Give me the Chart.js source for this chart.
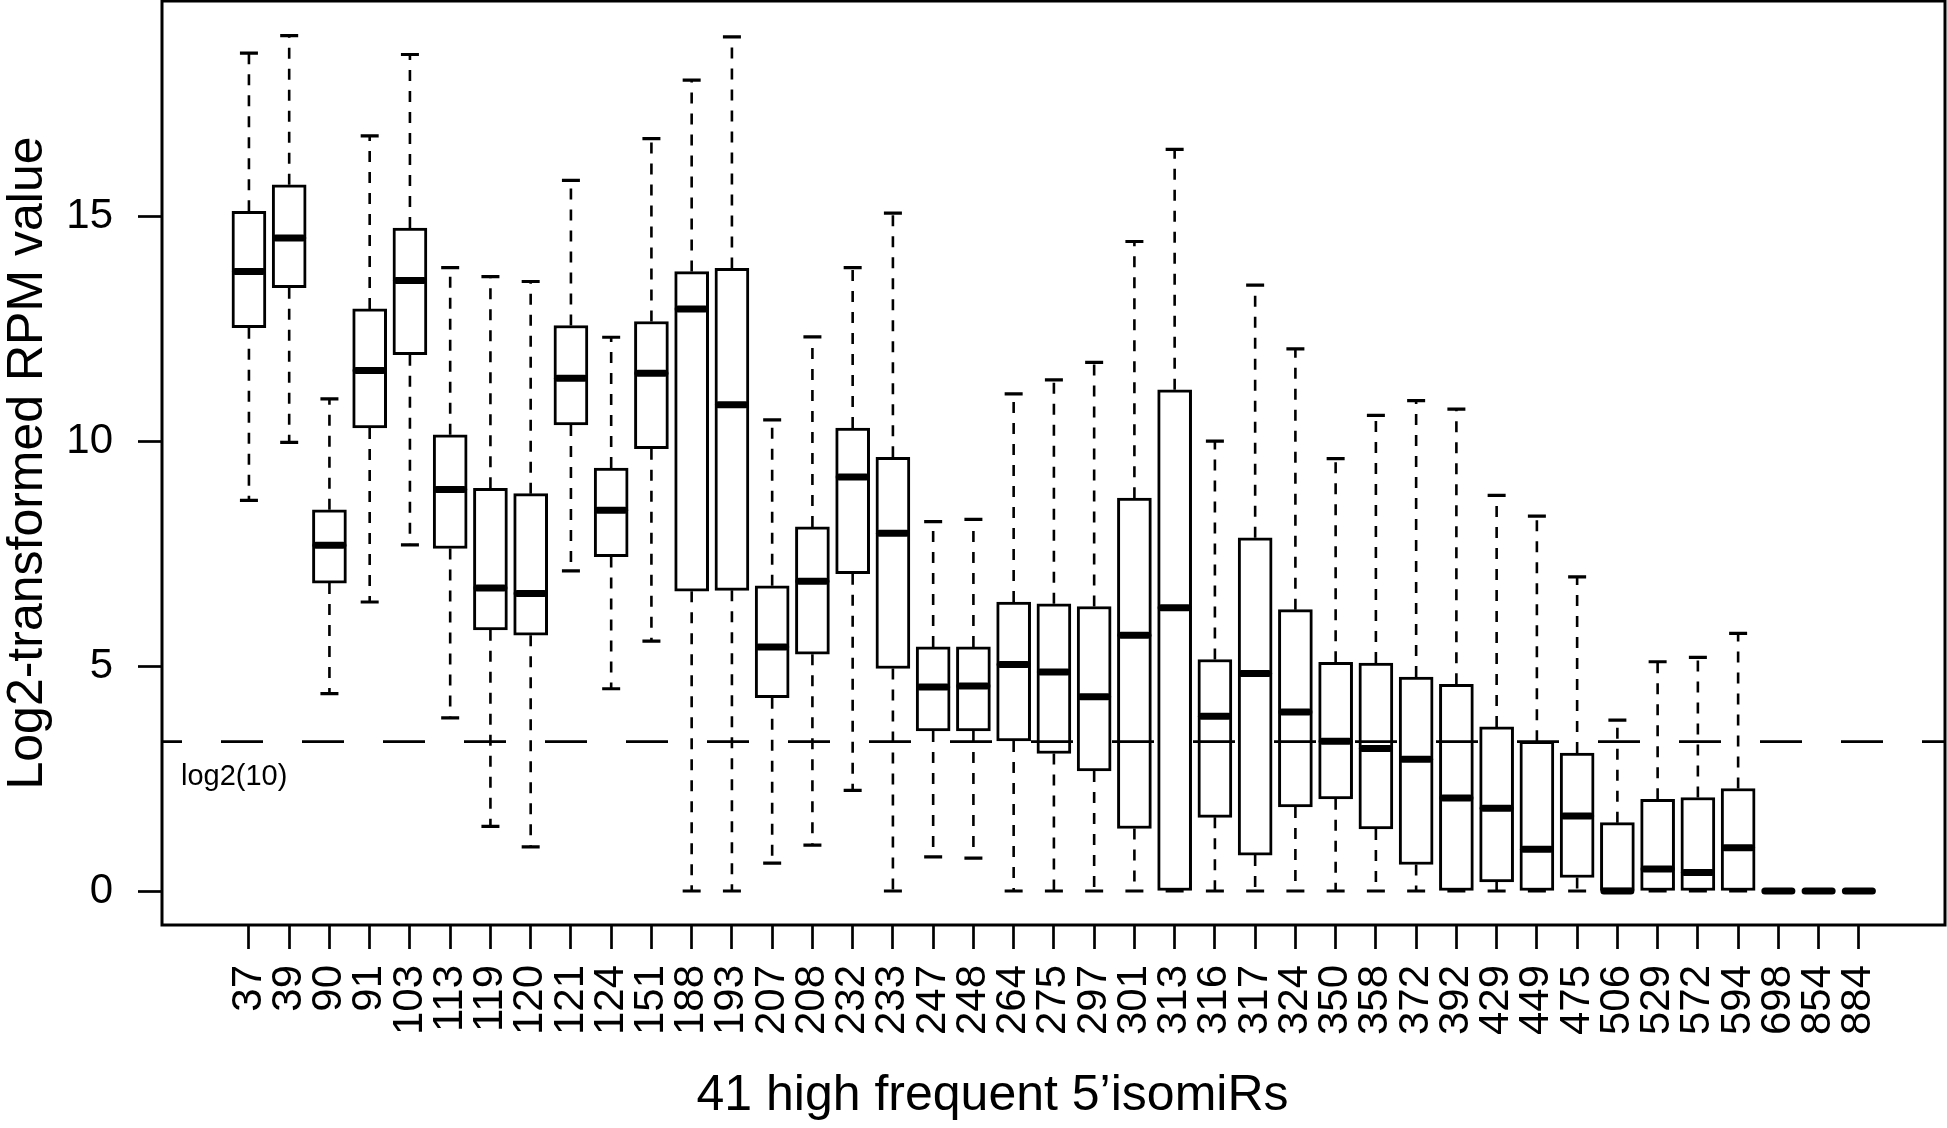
<!DOCTYPE html>
<html>
<head>
<meta charset="utf-8">
<script src="https://cdn.jsdelivr.net/npm/chart.js@4.4.1/dist/chart.umd.min.js"></script>
<style>
  html, body { margin: 0; padding: 0; background: #fff; }
  canvas { display: block; }
</style>
</head>
<body>
<canvas id="chart" width="1947" height="1128"></canvas>
<script>
const isomiRs = ["37", "39", "90", "91", "103", "113", "119", "120", "121", "124", "151", "188", "193", "207", "208", "232", "233", "247", "248", "264", "275", "297", "301", "313", "316", "317", "324", "350", "358", "372", "392", "429", "449", "475", "506", "529", "572", "594", "698", "854", "884"];
const whiskerLow = [8.69, 9.98, 4.39, 6.43, 7.70, 3.85, 1.44, 0.98, 7.12, 4.50, 5.56, 0, 0, 0.62, 1.02, 2.24, 0, 0.76, 0.73, 0, 0, 0, 0, 0, 0, 0, 0, 0, 0, 0, 0, 0, 0, 0, 0, 0, 0, 0, 0, 0, 0];
const lowerQuartile = [12.53, 13.42, 6.85, 10.30, 11.93, 7.62, 5.81, 5.69, 10.37, 7.44, 9.84, 6.67, 6.69, 4.30, 5.27, 7.06, 4.95, 3.56, 3.56, 3.34, 3.06, 2.67, 1.39, 0, 1.64, 0.80, 1.87, 2.05, 1.38, 0.59, 0, 0.20, 0, 0.30, 0, 0, 0, 0, 0, 0, 0];
const medians = [13.78, 14.53, 7.69, 11.58, 13.58, 8.93, 6.74, 6.62, 11.41, 8.47, 11.52, 12.95, 10.82, 5.43, 6.89, 9.21, 7.96, 4.54, 4.56, 5.04, 4.87, 4.32, 5.69, 6.30, 3.89, 4.84, 3.98, 3.33, 3.17, 2.93, 2.07, 1.84, 0.93, 1.67, 0, 0.49, 0.41, 0.96, 0, 0, 0];
const upperQuartile = [15.12, 15.71, 8.48, 12.95, 14.75, 10.15, 8.96, 8.84, 12.58, 9.41, 12.67, 13.78, 13.85, 6.79, 8.10, 10.30, 9.65, 5.43, 5.43, 6.43, 6.39, 6.33, 8.74, 11.15, 5.15, 7.86, 6.26, 5.09, 5.07, 4.76, 4.60, 3.65, 3.33, 3.07, 1.52, 2.04, 2.08, 2.28, 0, 0, 0];
const whiskerHigh = [18.64, 19.03, 10.95, 16.80, 18.61, 13.87, 13.67, 13.56, 15.81, 12.32, 16.74, 18.04, 19.00, 10.48, 12.33, 13.87, 15.08, 8.22, 8.27, 11.06, 11.37, 11.76, 14.45, 16.50, 10.01, 13.48, 12.06, 9.62, 10.58, 10.91, 10.72, 8.80, 8.34, 6.99, 3.80, 5.10, 5.20, 5.73, 0, 0, 0];
const yTicks = [0, 5, 10, 15];
const cutoff = Math.log2(10);
const cutoffLabel = "log2(10)";

const FONT = "'Liberation Sans', Arial, Helvetica, sans-serif";

// whiskers, staples, medians, the log2(10) line and the frame
const boxParts = {
  id: "boxParts",
  afterDatasetsDraw(chart) {
    const { ctx, chartArea, scales: { x, y } } = chart;
    ctx.save();
    ctx.strokeStyle = "#000";
    isomiRs.forEach((_, i) => {
      const px = x.getPixelForValue(i);

      ctx.lineWidth = 2.6;
      ctx.lineCap = "butt";
      ctx.setLineDash([11, 10]);
      ctx.beginPath();
      ctx.moveTo(px, y.getPixelForValue(upperQuartile[i]));
      ctx.lineTo(px, y.getPixelForValue(whiskerHigh[i]));
      ctx.moveTo(px, y.getPixelForValue(lowerQuartile[i]));
      ctx.lineTo(px, y.getPixelForValue(whiskerLow[i]));
      ctx.stroke();

      ctx.setLineDash([]);
      ctx.lineWidth = 3.2;
      ctx.beginPath();
      [whiskerHigh[i], whiskerLow[i]].forEach((v) => {
        const py = y.getPixelForValue(v);
        ctx.moveTo(px - 9, py);
        ctx.lineTo(px + 9, py);
      });
      ctx.stroke();

      ctx.lineWidth = 7;
      ctx.lineCap = "round";
      ctx.beginPath();
      const my = y.getPixelForValue(medians[i]);
      ctx.moveTo(px - 13.5, my);
      ctx.lineTo(px + 13.5, my);
      ctx.stroke();
    });

    const cy = y.getPixelForValue(cutoff);
    ctx.lineWidth = 2.7;
    ctx.lineCap = "butt";
    ctx.setLineDash([42, 39]);
    ctx.lineDashOffset = 22;
    ctx.beginPath();
    ctx.moveTo(chartArea.left, cy);
    ctx.lineTo(chartArea.right, cy);
    ctx.stroke();
    ctx.setLineDash([]);

    ctx.fillStyle = "#000";
    ctx.font = `29px ${FONT}`;
    ctx.textAlign = "left";
    ctx.textBaseline = "alphabetic";
    ctx.fillText(cutoffLabel, chartArea.left + 19, cy + 43);
    ctx.restore();
  },
  afterDraw(chart) {
    const { ctx, chartArea } = chart;
    ctx.save();
    ctx.strokeStyle = "#000";
    ctx.lineWidth = 3;
    ctx.strokeRect(chartArea.left, chartArea.top, chartArea.right - chartArea.left, chartArea.bottom - chartArea.top);
    ctx.restore();
  },
};

const tickGrid = {
  offset: false,
  drawOnChartArea: false,
  drawTicks: true,
  tickLength: 24,
  tickWidth: 2.7,
  tickColor: "#000",
};

new Chart(document.getElementById("chart"), {
  type: "bar",
  data: {
    datasets: [{
      data: isomiRs.map((_, i) => ({ x: i, y: [lowerQuartile[i], upperQuartile[i]] })),
      backgroundColor: "#fff",
      borderColor: "#000",
      borderWidth: 3,
      borderSkipped: false,
      barThickness: 34,
    }],
  },
  options: {
    responsive: false,
    animation: false,
    events: [],
    layout: { padding: { left: 40, right: 2, top: 1, bottom: 0 } },
    plugins: {
      legend: { display: false },
      tooltip: { enabled: false },
      title: {
        display: true,
        position: "bottom",
        text: "41 high frequent 5’isomiRs",
        color: "#000",
        font: { family: FONT, size: 50, weight: "normal" },
        padding: { top: 0, bottom: 2 },
      },
    },
    scales: {
      x: {
        type: "linear",
        offset: false,
        min: -2.16,
        max: 42.14,
        afterBuildTicks: (s) => { s.ticks = isomiRs.map((_, i) => ({ value: i })); },
        afterFit: (s) => {
          s.height = 141;
          s.paddingLeft = 0;
          s.paddingRight = 0;
        },
        border: { display: false },
        grid: tickGrid,
        ticks: {
          autoSkip: false,
          minRotation: 90,
          maxRotation: 90,
          padding: 16,
          color: "#000",
          font: { family: FONT, size: 42 },
          callback: (v) => isomiRs[v],
        },
      },
      y: {
        type: "linear",
        min: -0.756,
        max: 19.8,
        afterBuildTicks: (s) => { s.ticks = yTicks.map((v) => ({ value: v })); },
        afterFit: (s) => {
          s.width = 122;
          s.paddingTop = 0;
          s.paddingBottom = 0;
        },
        border: { display: false },
        grid: tickGrid,
        ticks: {
          padding: 25,
          color: "#000",
          font: { family: FONT, size: 42 },
          callback: (v) => String(v),
        },
        title: {
          display: true,
          text: "Log2-transformed RPM value",
          color: "#000",
          font: { family: FONT, size: 50 },
          padding: { top: -42, bottom: 0 },
        },
      },
    },
  },
  plugins: [boxParts],
});
</script>
</body>
</html>
